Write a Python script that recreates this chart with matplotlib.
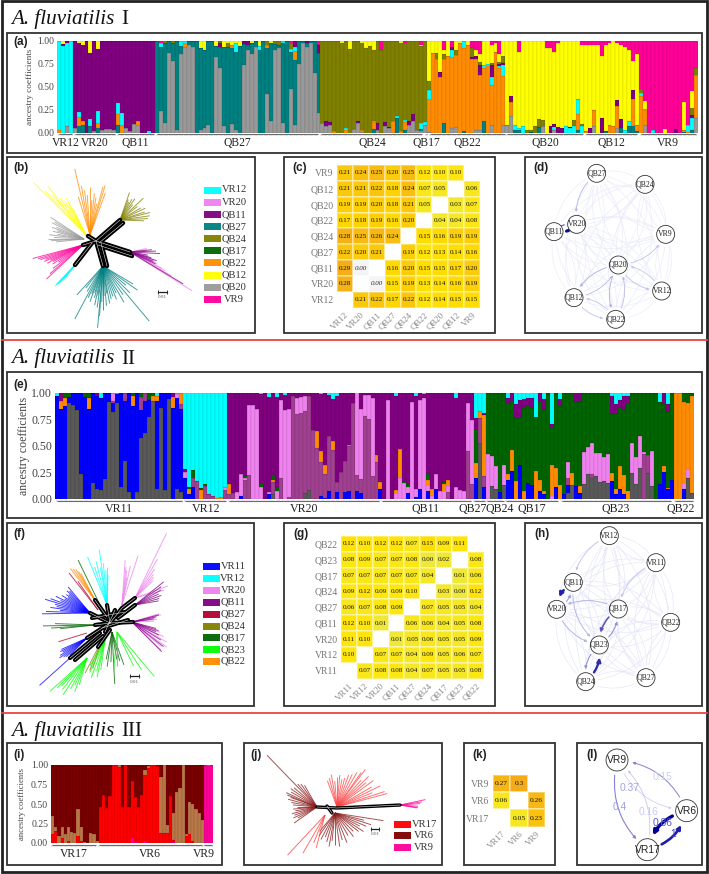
import numpy as np
import matplotlib
matplotlib.use('Agg')
import matplotlib.pyplot as plt
from matplotlib.patches import Circle, FancyArrowPatch, Rectangle
from matplotlib.colors import LinearSegmentedColormap

W, H = 709, 874
SERIF = 'Liberation Serif'
SANS = 'Liberation Sans'

CYAN = '#00ffff'
VIOLET = '#ee82ee'
PURPLE = '#800080'
TEAL = '#008080'
OLIVE = '#808000'
DGREEN = '#006400'
ORANGE = '#ff8c00'
YELLOW = '#ffff00'
GREY = '#999999'
MAGENTA = '#ff0099'
BLUE = '#0000ff'
MAUVE = '#a04090'
DGREY = '#595959'

# ---- panel (a), ancestry per individual, the remainder goes to the main cluster of each site
a_spans = [(0, 4, 'cyan'), (4, 21, 'purple'), (25, 42, 'teal'), (67, 27, 'olive'),
           (94, 20, 'orange'), (114, 34, 'yellow'), (148, 15, 'magenta')]
a_qb27_grey = [0, .23, .10, .87, .78, .03, .86, .93, .95, .93, 0, .03, .05, .08, 0, .82, .70, .07, 0, .09, .03,
               0, .74, .90, .85, .93, 0, 0, .42, .13, .90, .92, .10, 0, .47, .08, .75, .98, .93, .97, .65, .21]
a_grey = {2: .07, 4: .05, 9: .02, 11: .03, 12: .035, 13: .035, 14: .03, 17: .05, 18: .02, 19: .09, 20: .08,
          67: .10, 68: .07, 69: .08, 75: .04, 76: .10, 77: .01, 81: .03, 83: .07, 84: .05, 89: .08, 90: .12,
          91: .03, 92: .02, 93: .08, 94: .01, 100: .05, 101: .06, 106: .03, 107: .03, 110: .08, 113: .08,
          114: .08, 115: .18, 123: .07, 126: .03, 136: .07, 142: .05, 149: .08, 162: .16}
a_teal = {5: .07, 6: .08, 8: .07, 10: .05, 15: .08, 80: .04, 86: .16, 88: .03, 92: .02, 98: .10, 103: .02, 108: .13,
          116: .03, 117: .03, 120: .01, 122: .06, 132: .03, 139: .02, 143: .05, 145: .07, 146: .07, 147: .02,
          159: .01, 161: .03}
a_orange = {0: .03, 5: .10, 6: .04, 10: .05, 15: .12, 16: .08, 20: .05, 32: .05, 44: .03, 53: .03, 60: .10,
            70: .02, 73: .03, 77: .02, 80: .07, 85: .13, 87: .02, 88: .08, 115: .15, 132: .17, 134: .02, 136: .17,
            140: .08, 141: .07, 142: .24, 146: .29, 147: .06, 148: .40, 149: .16, 159: .02, 160: .01, 162: .47}
a_cyan = {5: .05, 8: .08, 10: .13, 15: .12, 16: .13, 23: .02, 26: .05, 31: .06, 32: .02, 45: .09, 51: .04, 57: .03,
          59: .03, 60: .04, 73: .02, 80: .01, 86: .02, 88: .03, 92: .06, 93: .03, 94: .09, 100: .08, 103: .08,
          108: .03, 109: .03, 110: .08, 112: .02, 113: .12, 116: .05, 117: .02, 118: .07, 126: .03, 129: .07,
          130: .05, 131: .07, 132: .16, 133: .07, 144: .03, 145: .05, 148: .03, 149: .02, 151: .03, 160: .07,
          161: .13}
a_purple = {1: .015, 2: .02, 41: .05, 47: .04, 48: .05, 60: .07, 63: .02, 66: .08, 68: .05, 69: .03, 76: .03, 81: .07,
            83: .04, 84: .01, 89: .04, 90: .08, 97: .06, 100: .03, 105: .02, 106: .03, 107: .11, 110: .14, 112: .03,
            113: .02, 115: .07, 125: .07, 126: .03, 127: .06, 128: .05, 130: .01, 135: .05, 138: .16, 142: .06,
            143: .10, 146: .10, 157: .04, 161: .03}
a_olive = {27: .02, 29: .02, 41: .02, 43: .05, 53: .05, 55: .04, 56: .05, 59: .06, 94: .10, 96: .07, 98: .05, 101: .06,
           105: .10, 107: .03, 110: .02, 112: .02, 113: .07, 119: .03, 120: .02, 121: .07, 122: .09, 123: .07,
           131: .07, 133: .02, 148: .04, 161: .08, 162: .07}
a_yellow = {1: .04, 5: .03, 6: .05, 8: .13, 10: .09, 36: .08, 37: .10, 40: .06, 42: .07, 43: .02, 44: .05, 45: .03,
            46: .06, 49: .02, 51: .06, 54: .03, 72: .03, 74: .09, 77: .03, 78: .08, 79: .06, 80: .10, 87: .02, 92: .01,
            94: .44, 95: .13, 96: .13, 97: .34, 98: .05, 99: .17, 101: .10, 102: .02, 104: .05, 106: .07, 107: .08,
            108: .27, 109: .25, 110: .19, 111: .10, 112: .08, 113: .17, 149: .08, 154: .04, 159: .30, 161: .18}
a_magenta = {26: .02, 59: .03, 66: .05, 82: .10, 88: .02, 92: .05, 98: .10, 100: .07, 105: .08, 106: .10, 107: .15,
             110: .05, 111: .02, 112: .15, 117: .12, 124: .08, 125: .08, 126: .12, 127: .03, 133: .05, 134: .05,
             135: .05, 136: .05, 137: .05, 138: .17, 139: .05, 140: .02, 142: .03, 143: .05, 144: .07, 145: .10,
             146: .22, 147: .15}

# ---- panel (e)
e_spans = [(0, 32, 'blue'), (32, 11, 'cyan'), (43, 62, 'purple'), (105, 3, 'cyan'), (108, 47, 'green'),
           (155, 5, 'orange')]
e_vr11_grey = [0, 0, 0, .90, .88, .84, .23, 0, 0, .15, .09, .08, .19, .91, .82, .90,
               .11, .36, .06, 0, .06, .57, .62, .77, .92, .09, .86, .08, .94, 0, .09, .06]
e_grey = {54: .04, 62: .05, 63: .08, 106: .53, 109: .12, 110: .09, 112: .13, 128: .05, 129: .13, 132: .14, 133: .23,
          134: .20, 135: .21, 136: .16, 137: .17, 138: .15, 144: .24, 145: .14, 146: .29, 148: .24, 149: .12,
          158: .20, 159: .05}
e_blue = {32: .20, 33: .04, 34: .11, 46: .03, 53: .04, 66: .03, 67: .01, 68: .07, 70: .06, 72: .06, 73: .07, 75: .07,
          76: .05, 81: .09, 88: .05, 90: .02, 91: .09, 93: .07, 95: .09, 105: .20, 107: .11, 111: .06, 113: .18,
          114: .26, 116: .32, 118: .15, 119: .13, 121: .07, 122: .04, 125: .11, 127: .04, 128: .08, 130: .12,
          131: .05, 139: .17, 140: .04, 141: .09, 142: .04, 151: .14, 152: .25, 153: .09, 154: .18, 157: .09}
e_mauve = {14: .02, 17: .08, 21: .12, 22: .08, 31: .04, 34: .09, 35: .17, 37: .12, 38: .04, 39: .03, 42: .08, 43: .04,
           44: .05, 47: .18, 48: .22, 54: .12, 56: .20, 58: .02, 59: .97, 60: .80, 61: .81, 62: .78, 63: .89, 64: .65,
           65: .48, 66: .32, 67: .22, 68: .52, 69: .46, 70: .10, 71: .25, 72: .30, 73: .43, 74: .90, 75: .15,
           76: .14, 77: .78, 78: .75, 79: .21, 80: .35, 98: .06, 103: .45, 104: .14, 106: .23, 107: .10, 128: .07,
           134: .03, 147: .42, 148: .17}
e_violet = {14: .08, 30: .04, 32: .05, 42: .03, 45: .06, 46: .20, 47: .02, 48: .66, 49: .88, 50: .85, 51: .11, 53: .02,
            55: .07, 56: .73, 57: .84, 58: .83, 60: .15, 61: .15, 62: .14, 75: .80, 76: .66, 77: .20, 78: .23,
            79: .74, 83: .93, 85: .05, 86: .20, 87: .15, 88: .06, 89: .91, 90: .07, 91: .84, 92: .95, 93: .06,
            94: .03, 95: .14, 96: .07, 97: .07, 98: .06, 100: .11, 101: .08, 102: .07, 103: .45, 104: .60,
            108: .42, 109: .28, 110: .22, 112: .19, 128: .15, 132: .30, 133: .26, 134: .30, 135: .22, 136: .27,
            137: .22, 138: .27, 144: .29, 145: .25, 146: .30, 147: .02, 149: .33, 157: .06, 158: .08, 124: .03}
e_orange = {1: .07, 2: .08, 8: .10, 15: .01, 19: .10, 24: .05, 25: .05, 29: .10, 30: .01, 31: .11, 33: .05, 36: .08,
            40: .01, 41: .02, 43: .10, 54: .02, 65: .16, 66: .10, 67: .09, 69: .08, 73: .01, 80: .06, 81: .07,
            85: .03, 86: .27, 93: .05, 94: .06, 97: .07, 98: .06, 105: .14, 106: .07, 107: .58, 113: .05, 114: .20,
            115: .17, 117: .07, 120: .26, 121: .11, 122: .03, 124: .29, 125: .18, 126: .13, 129: .11, 131: .07,
            139: .07, 140: .05, 141: .22, 142: .18, 143: .07, 152: .06, 153: .01}
e_green = {2: .05, 3: .04, 7: .04, 8: .05, 19: .03, 21: .04, 23: .07, 24: .03, 33: .02, 34: .07, 36: .02, 37: .02,
           47: .01, 51: .04, 54: .04, 55: .04, 87: .02, 88: .03, 93: .05, 97: .02, 105: .31, 157: .09, 158: .10,
           159: .03}
e_purple = {1: .08, 10: .03, 29: .04, 32: .03, 107: .02, 105: .11, 113: .05, 114: .08, 115: .13, 116: .17, 117: .08,
            118: .08, 119: .09, 121: .08, 122: .10, 123: .01, 124: .02, 126: .07, 130: .09, 131: .09, 139: .17,
            140: .09, 141: .07, 142: .13, 143: .07, 152: .11, 153: .07}
e_cyan = {0: .03, 11: .05, 25: .03, 51: .01, 53: .04, 55: .04, 57: .02, 66: .01, 68: .02, 69: .06, 70: .03, 85: .03,
          90: .03, 92: .01, 100: .05, 113: .05, 115: .11, 116: .07, 117: .06, 118: .05, 119: .05, 120: .23,
          122: .06, 124: .30, 126: .06, 139: .03, 140: .11, 141: .07, 142: .03, 143: .03, 151: .09, 153: .11}

# ---- panel (i)
i_spans = [(0, 48, 'darkred'), (48, 3, 'magenta')]
i_red_vr17 = [.11, .15, 0, .06, 0, .03, 0, 0, .09, .02, 0, 0, .0, 0, 0]
i_tan_vr17 = [.24, .05, .09, .14, .12, .17, .14, .13, .35, .18, .01, 0, .13, .11, .02]
i_red_vr6 = [.46, .61, .45, .60, 1, 1, .97, .46, 1, .46, .73, .58, .46, .61, .85, .96, 1, 1, .99, .13, .13, .13, .60,
             .03, 0, 0, 0, .09, .12, .03, 0, 0, 0]
i_tan_vr6 = [0, 0, 0, 0, 0, 0, .03, 0, 0, 0, 0, 0, 0, 0, .07, .03, 0, 0, 0, .71, .87, .10, 0, .35, .65, .70, 1, .02,
             .40, .47, .44, .38, .30]
i_magenta = {26: .01, 29: .02, 25: .06, 38: .01, 47: .0}

# ---- pairwise FST tables
c_labels = ['VR12', 'VR20', 'QB11', 'QB27', 'QB24', 'QB22', 'QB20', 'QB12', 'VR9']
c_values = [[.21, .24, .25, .20, .25, .12, .10, .10, None],
            [.21, .21, .22, .18, .24, .07, .05, None, .06],
            [.19, .19, .20, .18, .21, .05, None, .03, .07],
            [.17, .18, .19, .16, .20, None, .04, .04, .08],
            [.28, .25, .26, .24, None, .15, .16, .19, .19],
            [.22, .20, .21, None, .19, .12, .13, .14, .16],
            [.29, 0.0, None, .16, .20, .15, .15, .17, .20],
            [.28, None, 0.0, .15, .19, .13, .14, .16, .19],
            [None, .21, .22, .17, .22, .12, .14, .15, .15]]
g_labels = ['VR11', 'VR12', 'VR20', 'QB11', 'QB27', 'QB24', 'QB17', 'QB23', 'QB22']
g_values = [[.12, .10, .12, .12, .07, .15, .09, .11, None],
            [.08, .09, .07, .07, .08, .004, .02, None, .08],
            [.07, .07, .07, .07, .07, .04, None, .01, .06],
            [.09, .12, .09, .09, .10, None, .03, .004, .12],
            [.06, .07, .08, .09, None, .07, .05, .05, .04],
            [.12, .10, .01, None, .06, .06, .04, .05, .08],
            [.11, .10, None, .01, .05, .06, .05, .05, .09],
            [.10, None, .07, .07, .04, .09, .05, .06, .07],
            [None, .07, .08, .08, .04, .07, .05, .05, .08]]
k_labels = ['VR17', 'VR6', 'VR9']
k_values = [[.27, .3, None], [.06, None, .26], [None, .05, .23]]

# ---- neighbour nets, branch angle (deg) and length per group
b_groups = ['VR12', 'VR20', 'QB11', 'QB27', 'QB24', 'QB22', 'QB12', 'QB20', 'VR9']
b_angles = [[227, 228, 230, 232, 229, 233, 226],
            [-32, -30, -28, -27, -24, -22, -20, -18, -16, -12, 3, 8, 12],
            [-31, -25, -22, -18, -15, -10, -3, 2, 6],
            [228, 232, 238, 242, 245, 248, 250, 253, 255, 258, 260, 262, 265, 266, 268, 270, 272, 275, 278, 280, 284,
             288, 292, 296, 300, 305, 310, 315, 320, 325, 329],
            [71, 68, 64, 60, 55, 50, 43, 38, 30, 25, 18, 14, 8, 3, -2],
            [107, 103, 100, 97, 94, 90, 87, 84, 81, 78, 75, 73, 70],
            [135, 133, 130, 128, 125, 122, 120, 118, 116],
            [147, 150, 153, 157, 160, 163, 166, 170, 173, 177, 180, 183, 186],
            [195, 197, 199, 201, 203, 205, 207, 209, 212, 215, 218, 221, 223]]
b_lengths = [[29, 26, 22, 18, 24, 15, 27],
             [73, 48, 40, 36, 30, 28, 25, 25, 20, 18, 15, 17, 17],
             [62, 28, 25, 28, 22, 18, 30, 26, 22],
             [39, 28, 30, 60, 35, 30, 38, 28, 33, 40, 30, 42, 62, 50, 36, 44, 30, 40, 28, 38, 34, 32, 36, 30, 42, 35,
              72, 38, 30, 42, 35],
             [29, 22, 20, 24, 26, 20, 32, 22, 24, 28, 26, 31, 30, 28, 24],
             [40, 68, 50, 45, 40, 48, 35, 42, 38, 32, 50, 52, 45],
             [74, 60, 52, 62, 45, 40, 35, 42, 30],
             [40, 34, 36, 30, 34, 28, 32, 27, 35, 30, 36, 33, 28],
             [52, 47, 45, 40, 42, 36, 40, 34, 36, 30, 38, 44, 50]]
f_groups = ['VR11', 'VR11', 'VR12', 'VR20', 'VR20', 'VR20', 'QB11', 'QB11', 'QB27', 'QB27', 'QB24', 'QB17', 'QB17',
            'QB17', 'QB23', 'QB23', 'QB23', 'QB22', 'VR11']
f_angles = [[130, 133, 136, 139, 142, 145, 148, 151, 154, 157, 160, 163, 166, 169, 172, 175, 178, 181],
            [204, 207, 210, 213, 216, 219, 222, 225],
            [112, 108, 104, 100, 98, 95, 92, 90, 88],
            [86, 82, 78, 72, 84, 80],
            [64, 60, 56, 52, 48, 44, 20, 15],
            [17, 14, 10, 6, 2, -20, -25, -30, -36, -40, -44],
            [39, 35, 30, 25, 20, 15, 10],
            [15, 12, 8, -15, -18, -22, -26, -32, -38, -45],
            [128, 125], [197], [243, 248, 252], [116], [181, 178, 184, 186],
            [273, 268, 262, 258, 280, 285, 290],
            [222, 225, 228, 232, 237, 242, 246, 250, 254],
            [240, 245, 250, 255, 258, 262],
            [310, 303, 296, 265, 270],
            [128, 125, 122, 120, 118], [222]]
f_lengths = [[34, 30, 32, 28, 30, 27, 33, 29, 38, 32, 42, 47, 36, 34, 40, 30, 44, 48],
             [28, 30, 28, 32, 34, 30, 28, 24],
             [52, 40, 45, 38, 56, 42, 35, 38, 30],
             [45, 35, 40, 52, 38, 28],
             [72, 45, 35, 30, 28, 25, 35, 30],
             [28, 30, 24, 25, 22, 30, 35, 40, 43, 38, 40],
             [37, 32, 30, 26, 28, 25, 24],
             [28, 25, 22, 25, 28, 26, 30, 34, 40, 42],
             [47, 35], [30], [37, 33, 30], [50], [52, 40, 44, 35],
             [52, 30, 35, 28, 28, 30, 35],
             [50, 42, 38, 40, 44, 35, 30, 36, 28],
             [30, 36, 40, 32, 38, 30],
             [58, 45, 38, 38, 34],
             [40, 38, 36, 33, 30], [41]]
j_groups = ['VR6', 'VR17', 'VR6', 'VR17', 'VR9']
j_angles = [[134, 120, 125, 130, 140, 145, 150, 155, 158, 160, 165, 170, 175, 180, 185, 190, 195, 200, 205, 210, 215],
            [110, 105, 100, 95, 90, 85, 80, 75, 70, 65, 60, 55, 53, 48, 44, 40, 36, 30, 26, 22, 18, 15],
            [-9, -14, -18, -23, -28, -33, -38, -45, -52, -60, -68, -75, -82, -90, -96, -100, -106, -112, -118, -125,
             -130],
            [227, 240, 248, 255],
            [12, 8, 4, -4, -8, -10]]
j_lengths = [[72, 25, 28, 30, 30, 32, 30, 34, 32, 28, 30, 26, 24, 20, 24, 22, 26, 24, 26, 22, 28],
             [28, 30, 33, 26, 30, 32, 28, 30, 34, 36, 40, 42, 47, 36, 44, 38, 45, 40, 48, 38, 50, 52],
             [49, 30, 38, 34, 28, 34, 30, 26, 30, 26, 32, 28, 34, 32, 28, 34, 30, 26, 30, 28, 24],
             [55, 44, 30, 34],
             [26, 22, 20, 18, 18, 17]]

# ---- gene flow edges, relative weight
d_nodes = ['QB27', 'QB24', 'VR9', 'VR12', 'QB22', 'QB12', 'QB20', 'QB11', 'VR20']
d_edges = [('QB11', 'VR20', .95), ('VR20', 'QB11', .5), ('QB20', 'QB22', .2), ('QB22', 'QB20', .15),
           ('QB20', 'QB12', .2), ('QB12', 'QB20', .15), ('QB12', 'QB22', .12), ('QB22', 'QB12', .1),
           ('QB20', 'VR12', .12), ('VR12', 'QB20', .1), ('QB27', 'VR20', .18), ('QB20', 'VR9', .12)]
h_nodes = ['VR12', 'VR11', 'QB22', 'QB27', 'QB24', 'QB23', 'QB17', 'VR20', 'QB11']
h_edges = [('QB11', 'VR20', .85), ('VR20', 'QB11', .3), ('QB17', 'QB23', .6), ('QB23', 'QB17', .35),
           ('QB24', 'QB23', .8), ('QB23', 'QB24', .35), ('QB11', 'QB23', .2), ('VR20', 'QB23', .2),
           ('QB17', 'VR20', .2), ('VR11', 'QB17', .12), ('VR12', 'QB11', .12)]
l_nodes = ['VR9', 'VR6', 'VR17']
l_edges = [('VR9', 'VR6', .08, '0.15'), ('VR6', 'VR9', .37, '0.37'), ('VR9', 'VR17', .4, '0.4'),
           ('VR17', 'VR9', .12, '0.16'), ('VR17', 'VR6', .86, '0.86'), ('VR6', 'VR17', 1.0, '1')]

# ---- layout, all in image pixels
fig = plt.figure(figsize=(W / 100, H / 100), dpi=100)
bg = fig.add_axes([0, 0, 1, 1])
bg.set_xlim(0, W)
bg.set_ylim(H, 0)
bg.set_axis_off()


def px_axes(x0, y0, x1, y1):
    return fig.add_axes([x0 / W, 1 - y1 / H, (x1 - x0) / W, (y1 - y0) / H])


def box(x0, y0, x1, y1, lw=1.3):
    bg.add_patch(Rectangle((x0, y0), x1 - x0, y1 - y0, fill=False, ec='#333333', lw=lw))


def stacked(rect, n, order, colors, parts, spans, tick_size, lab_size, lab_x):
    ax = px_axes(*rect)
    heights = {c: np.zeros(n) for c in order}
    for name, vals in parts.items():
        for i, v in vals.items():
            heights[name][i] = v
    # each individual adds up to one, so the main cluster takes what is left
    for start, count, name in spans:
        idx = np.arange(start, start + count)
        others = sum(heights[c][idx] for c in order if c != name)
        heights[name][idx] = np.clip(1 - others, 0, 1)
    bottom = np.zeros(n)
    for c in order:
        ax.bar(np.arange(n), heights[c], bottom=bottom, width=1, color=colors[c],
               edgecolor=(0, 0, 0, .16), linewidth=.3)
        bottom += heights[c]
    ax.set_xlim(-.5, n - .5)
    ax.set_ylim(0, 1)
    ax.set_xticks([])
    ax.set_yticks([0, .25, .5, .75, 1])
    ax.set_yticklabels(['0.00', '0.25', '0.50', '0.75', '1.00'], family=SERIF, fontsize=tick_size, color='#444444')
    ax.tick_params(length=0, pad=2)
    for s in ax.spines.values():
        s.set_visible(False)
    bg.text(lab_x, (rect[1] + rect[3]) / 2, 'ancestry coefficients', rotation=90, family=SERIF, fontsize=lab_size,
            color='#444444', ha='center', va='center')


def brackets(items, y, text_y, size):
    for name, x0, x1, cx in items:
        bg.plot([x0, x1], [y, y], color='#666666', lw=.8, solid_capstyle='butt')
        bg.plot(np.arange(x0, x1 + .1, 2.5), np.full(len(np.arange(x0, x1 + .1, 2.5)), y + .7), ls='none',
                marker='|', ms=1.2, mew=.3, color='#888888')
        bg.text(cx, text_y, name, family=SERIF, fontsize=size, color='#222222', ha='center', va='center')


def heat(rect, values, labels, size, ysize, small=False):
    ax = px_axes(*rect)
    data = np.array([[np.nan if v is None else v for v in row] for row in values], dtype=float)
    cmap = LinearSegmentedColormap.from_list('fst', [(0, '#f4f4f4'), (.007, '#eee83c'), (.3, '#fde70f'),
                                                     (.5, '#ffdd00'), (1, '#f3ab1a')])
    cmap.set_bad('white')
    n = len(labels)
    ax.pcolormesh(np.arange(n + 1), np.arange(n + 1), data, cmap=cmap, vmin=0, vmax=.3,
                  edgecolors=(1, 1, 1, .35), linewidth=.3)
    ax.set_ylim(n, 0)
    ax.set_xlim(0, n)
    for r, row in enumerate(values):
        for c, v in enumerate(row):
            if v is None:
                continue
            if v == 0:
                ax.text(c + .5, r + .5, '0.00', ha='center', va='center', family=SERIF, style='italic',
                        fontsize=size, color='#333333')
            else:
                txt = '0.3' if (small and v == .3) else f'{v:.2f}'
                ax.text(c + .5, r + .5, txt, ha='center', va='center', family=SERIF, fontsize=size, color='#111111')
    ax.set_xticks(np.arange(n) + .5)
    ax.set_xticklabels(labels, rotation=45, ha='right', rotation_mode='anchor', family=SERIF, fontsize=ysize - .6,
                       color='#888888')
    ax.set_yticks(np.arange(n) + .5)
    ax.set_yticklabels(labels[::-1], family=SERIF, fontsize=ysize, color='#777777')
    ax.tick_params(length=0, pad=2.5)
    for s in ax.spines.values():
        s.set_visible(False)


def fans(hubs, groups, angles, lengths, colors, lw=.7, alpha=.75):
    for hub, g, ang, ln in zip(hubs, groups, angles, lengths):
        for a, l in zip(ang, ln):
            t = np.radians(a)
            bg.plot([hub[0], hub[0] + l * np.cos(t)], [hub[1], hub[1] - l * np.sin(t)], color=colors[g], lw=lw,
                    alpha=alpha, solid_capstyle='butt')


def backbone(paths, lw=3.2):
    for p in paths:
        xs, ys = zip(*p)
        bg.plot(xs, ys, color='black', lw=lw, solid_capstyle='round', zorder=4)
        bg.plot(xs, ys, color='white', lw=.35, zorder=4.1)


def scale(x0, x1, y, ty):
    bg.plot([x0, x1], [y, y], color='#222222', lw=.9, marker='|', ms=3, mew=.6)
    bg.text((x0 + x1) / 2, ty, '0.01', family=SERIF, fontsize=3.6, color='#555555', ha='center', va='center')


def legend(names, colors, ys, x0, x1, tx, size=7.6, h=7):
    for n, y in zip(names, ys):
        bg.add_patch(Rectangle((x0, y - h / 2), x1 - x0, h, fc=colors[n], ec='none', alpha=.95))
        bg.text(tx, y, n, family=SERIF, fontsize=size, color='#333333', ha='center', va='center')


def network(pos, edges, faint, r, size, family=SERIF, rad=.28):
    names = list(pos)
    if faint:
        for u in names:
            for v in names:
                if u != v:
                    bg.add_patch(FancyArrowPatch(pos[u], pos[v], connectionstyle=f'arc3,rad={rad}', arrowstyle='-',
                                                 shrinkA=r, shrinkB=r, color=faint, lw=.5, alpha=.8, zorder=2))
    for edge in edges:
        u, v, w = edge[:3]
        col = np.array([.86, .86, .97]) * (1 - w) + np.array([0, 0, .6]) * w
        bg.add_patch(FancyArrowPatch(pos[u], pos[v], connectionstyle=f'arc3,rad={rad}', arrowstyle='-|>',
                                     mutation_scale=3 + 3 * w, shrinkA=r, shrinkB=r, color=col, lw=.5 + 1.9 * w ** 2,
                                     zorder=3))
    for n, (x, y) in pos.items():
        bg.add_patch(Circle((x, y), r, fc='white', ec='#333333', lw=.6, zorder=5))
        bg.text(x, y, n, family=family, fontsize=size, color='#222222', ha='center', va='center', zorder=6)


# frames and separators
bg.add_patch(Rectangle((1.5, 1), 705.5, 871, fill=False, ec='#222222', lw=2))
for y in (340, 712.7):
    bg.plot([2, 707], [y, y], color='#f04040', lw=1.3)
for r in [(7, 33, 702, 153), (7, 157, 254.5, 333), (284, 157, 495, 333), (525, 157, 702, 333),
          (7, 372, 702, 518), (7, 523, 253.5, 706), (284, 523, 494.5, 706), (525, 523, 702, 706),
          (7, 743, 222, 865), (244, 743, 442, 865), (464, 743, 555, 865), (577, 743, 702, 865)]:
    box(*r)

# section titles
for y, num in [(24, 'I'), (363.5, 'II'), (736, 'III')]:
    bg.text(11.5, y, 'A. fluviatilis', family=SERIF, style='italic', fontsize=15.2, color='#111111', va='baseline')
    bg.text(121.5, y, num, family=SERIF, fontsize=15.2, color='#111111', va='baseline')

# panel letters
for s, x, y in [('(a)', 13, 42), ('(b)', 13, 168), ('(c)', 292, 168), ('(d)', 533, 168), ('(e)', 13, 385),
                ('(f)', 13, 534), ('(g)', 293, 534), ('(h)', 534, 534), ('(i)', 13, 755), ('(j)', 250, 755),
                ('(k)', 472, 755), ('(l)', 586, 755)]:
    bg.text(x, y, s, family=SANS, weight='bold', fontsize=8.5, color='#222222', va='center')

# (a)
a_grey_all = dict(a_grey)
a_grey_all.update({25 + i: v for i, v in enumerate(a_qb27_grey)})
a_colors = {'grey': GREY, 'teal': TEAL, 'orange': ORANGE, 'cyan': CYAN, 'purple': PURPLE, 'olive': OLIVE,
            'yellow': YELLOW, 'magenta': MAGENTA}
stacked((57, 40.7, 698, 132.5), 163, list(a_colors), a_colors,
        {'grey': a_grey_all, 'teal': a_teal, 'orange': a_orange, 'cyan': a_cyan, 'purple': a_purple,
         'olive': a_olive, 'yellow': a_yellow, 'magenta': a_magenta}, a_spans, 6.9, 6.6, 29.5)
brackets([('VR12', 59, 72, 66), ('VR20', 75, 115, 95), ('QB11', 118, 154, 135), ('QB27', 157, 318, 237),
          ('QB24', 321, 422, 372), ('QB17', 426, 427, 426), ('QB22', 430, 505, 467), ('QB20', 507, 583, 545),
          ('QB12', 586, 637, 611), ('VR9', 641, 696, 668)], 134.3, 143, 8.4)

# (b)
leg_colors = {'VR11': BLUE, 'VR12': CYAN, 'VR20': VIOLET, 'QB11': PURPLE, 'QB27': TEAL, 'QB24': OLIVE, 'QB17': DGREEN,
              'QB22': ORANGE, 'QB12': YELLOW, 'QB20': GREY, 'VR9': MAGENTA}
b_hubs = [(75, 265), (130, 252), (130, 252), (103, 266), (120, 220), (90, 235), (86, 235), (84, 239), (83, 245)]
fans(b_hubs, b_groups, b_angles, b_lengths, leg_colors)
backbone([[(96, 241), (88, 236)], [(96, 241), (120, 220)], [(99, 243), (123, 223)], [(96, 241), (130, 252)],
          [(98, 245), (132, 256)], [(96, 241), (103, 266)], [(101, 243), (107, 266)], [(96, 241), (83, 245)],
          [(92, 243), (75, 265)]])
scale(158, 167, 291.7, 297)
legend(['VR12', 'VR20', 'QB11', 'QB27', 'QB24', 'QB17', 'QB22', 'QB12', 'QB20', 'VR9'], leg_colors,
       [190, 202.3, 214.7, 226.7, 238.7, 250.7, 262.7, 275, 287, 299], 204, 221, 234)

# (c)
heat((337, 165, 480, 307.7), c_values, c_labels, 5, 7)

# (d)
d_px = [(740, 70), (885, 103), (947, 253), (935, 423), (797, 508), (672, 443), (805, 345), (612, 245), (680, 223)]
network({n: (350 + x / 3, 150 + y / 3) for n, (x, y) in zip(d_nodes, d_px)}, d_edges, '#e8e8fa', 9, 5.6)

# (e)
e_grey_all = dict(e_grey)
e_grey_all.update(dict(enumerate(e_vr11_grey)))
e_colors = {'grey': DGREY, 'blue': BLUE, 'mauve': MAUVE, 'violet': VIOLET, 'orange': ORANGE, 'green': DGREEN,
            'purple': PURPLE, 'cyan': CYAN}
stacked((55, 392.7, 694, 498.7), 160, list(e_colors), e_colors,
        {'grey': e_grey_all, 'blue': e_blue, 'mauve': e_mauve, 'violet': e_violet, 'orange': e_orange,
         'green': e_green, 'purple': e_purple, 'cyan': e_cyan}, e_spans, 8.6, 8.6, 24)
brackets([('VR11', 57, 182, 119), ('VR12', 185, 226, 206), ('VR20', 229, 379, 304), ('QB11', 382, 471, 426),
          ('QB27', 474, 485, 473), ('QB24', 487, 504, 500), ('QB17', 506, 558, 532), ('QB23', 562, 671, 616),
          ('QB22', 675, 693, 681)], 500.5, 509.5, 8.6)

# (f)
f_colors = {'VR11': BLUE, 'VR12': CYAN, 'VR20': VIOLET, 'QB11': PURPLE, 'QB27': '#b00030', 'QB24': OLIVE,
            'QB17': DGREEN, 'QB23': '#00ff00', 'QB22': ORANGE}
f_hubs = [(90, 613), (87, 638), (107, 605), (122, 605), (135, 598), (132, 622), (135, 605), (132, 622), (98, 610),
          (87, 633), (102, 640), (100, 605), (95, 625), (112, 632), (87, 658), (105, 640), (117, 632), (95, 600),
          (70, 658)]
fans(f_hubs, f_groups, f_angles, f_lengths, f_colors)
c_f = (110, 623)
backbone([[(90, 613), c_f, (133, 622)], [(107, 605), c_f], [(135, 598), (122, 608), c_f], [(87, 638), c_f],
          [(70, 658), (100, 633)], [(75, 660), (103, 636)], [(98, 647), (110, 630)], [(95, 600), (107, 617)],
          [(95, 625), c_f], [(135, 605), (118, 618)], [(92, 618), (125, 612)], [(102, 628), (128, 620)],
          [(115, 610), (105, 632)]], lw=3)
scale(130, 139, 675.7, 682)
legend(list(f_colors), f_colors, [566.7, 578.7, 590.3, 602.3, 614, 626, 637.7, 649.7, 661.3], 203, 219.5, 233)

# (g)
heat((341, 536, 483.7, 678.7), g_values, g_labels, 5, 7)

# (h)
h_px = [(778, 77), (918, 158), (962, 337), (888, 503), (707, 515), (748, 405), (805, 297), (620, 298), (670, 217)]
network({n: (350 + x / 3, 510 + y / 3) for n, (x, y) in zip(h_nodes, h_px)}, h_edges, '#e2e2f8', 9, 5.6)

# (i)
i_colors = {'magenta': MAGENTA, 'red': '#ff0000', 'tan': '#b87848', 'darkred': '#7a0000'}
i_red = dict(enumerate(i_red_vr17))
i_red.update({15 + k: v for k, v in enumerate(i_red_vr6)})
i_tan = dict(enumerate(i_tan_vr17))
i_tan.update({15 + k: v for k, v in enumerate(i_tan_vr6)})
i_tan.update({49: .01, 48: .0})
stacked((51, 765, 213.5, 843), 51, list(i_colors), i_colors, {'magenta': i_magenta, 'red': i_red, 'tan': i_tan}, i_spans,
        7, 6.2, 22)
brackets([('VR17', 52, 96, 74), ('VR6', 99, 202, 149.5), ('VR9', 204, 212, 203.5)], 845, 854, 8.4)

# (j)
j_colors = {'VR17': '#ff4040', 'VR6': '#8b1a1a', 'VR9': MAGENTA}
j_hubs = [(317, 807), (337, 807), (335, 813), (325, 815), (400, 805)]
fans(j_hubs, j_groups, j_angles, j_lengths, j_colors)
backbone([[(317, 807), (337, 808), (400, 805)], [(327, 806), (332, 813)]], lw=2.4)
scale(371, 379, 829, 834)
legend(['VR17', 'VR6', 'VR9'], {'VR17': '#ff0000', 'VR6': '#800000', 'VR9': MAGENTA}, [824.3, 835.7, 847.3], 394, 411,
       424)

# (k)
heat((493, 774.7, 545, 826.7), k_values, k_labels, 5.4, 7, small=True)

# (l)
l_pos = {'VR9': (350 + 801 / 3, 760), 'VR6': (350 + 1010 / 3, 810.7), 'VR17': (350 + 892 / 3, 849.7)}
network(l_pos, [e[:3] for e in l_edges], None, 11, 7.4, family=SANS, rad=.3)
for e, (x, y) in zip(l_edges, [(937, 232), (838, 265), (810, 322), (897, 337), (938, 368), (968, 402)]):
    col = np.array([.86, .86, .97]) * (1 - e[2]) + np.array([.25, .25, .8]) * e[2]
    bg.text(350 + x / 3, 700 + y / 3, e[3], family=SANS, fontsize=7.4, color=col, ha='center', va='center', zorder=7)

fig.savefig('out.png', dpi=100)
